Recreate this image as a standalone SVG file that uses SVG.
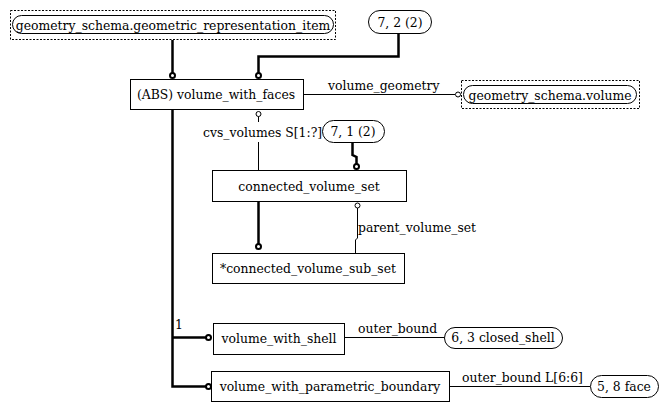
<svg xmlns="http://www.w3.org/2000/svg" width="668" height="412" viewBox="0 0 668 412">
<style>
text{font-family:"DejaVu Serif","Liberation Serif",serif;font-size:12.4px;fill:#000}
.c{text-anchor:middle}
.box{fill:#fff;stroke:#000;stroke-width:1}
.dash{fill:none;stroke:#000;stroke-width:1;stroke-dasharray:2,1.5}
.ov{fill:#fff;stroke:#000;stroke-width:1}
.thin{fill:none;stroke:#000;stroke-width:1}
.thick{fill:none;stroke:#000;stroke-width:2.5}
.oc{fill:#fff;stroke:#000;stroke-width:1}
.ocb{fill:#fff;stroke:#000;stroke-width:2}
</style>
<rect width="668" height="412" fill="#fff"/>
<g id="connectors">
<path class="thick" d="M172.5,40V73"/>
<circle class="ocb" cx="172.5" cy="75.5" r="2.5"/>
<path class="thick" d="M258.5,73V56.5H398.5V33"/>
<circle class="ocb" cx="258.5" cy="75.5" r="2.5"/>
<path class="thin" d="M303,94.5H455"/>
<circle class="oc" cx="458" cy="94.5" r="2.5"/>
<text x="328" y="90">volume_geometry</text>
<circle class="oc" cx="258.5" cy="114" r="2.5"/>
<path class="thin" d="M258.5,116.5V122M258.5,142V170"/>
<text x="203" y="137">cvs_volumes S[1:?]</text>
<path class="thick" d="M352.5,143V155L356.5,157V164"/>
<circle class="ocb" cx="356.5" cy="166.5" r="2.5"/>
<path class="thick" d="M258.5,201V244"/>
<circle class="ocb" cx="258.5" cy="246.5" r="2.5"/>
<circle class="oc" cx="357.5" cy="205.5" r="2.5"/>
<path class="thin" d="M357.5,208V238L355.5,240V253"/>
<text x="358" y="232">parent_volume_set</text>
<path class="thick" d="M172.5,109V386.5H206M172.5,337.5H206"/>
<circle class="ocb" cx="208.5" cy="337.5" r="2.5"/>
<circle class="ocb" cx="208.5" cy="386.5" r="2.5"/>
<text x="175" y="329">1</text>
<path class="thin" d="M344,337.5H444"/>
<text x="358" y="333">outer_bound</text>
<path class="thin" d="M449,386.5H590"/>
<text x="462" y="382">outer_bound L[6:6]</text>
</g>
<g id="geometric_representation_item">
<rect class="dash" x="10.5" y="10.5" width="325" height="29"/>
<rect class="ov" x="12.5" y="15.5" width="321" height="18" rx="9"/>
<text class="c" x="173" y="29.5">geometry_schema.geometric_representation_item</text>
</g>
<g id="ref_7_2">
<rect class="ov" x="368.5" y="10.5" width="63" height="23" rx="11.5"/>
<text class="c" x="400" y="27">7, 2 (2)</text>
</g>
<g id="volume_with_faces">
<rect class="box" x="130.5" y="79.5" width="173" height="30"/>
<text class="c" x="216" y="99">(ABS) volume_with_faces</text>
</g>
<g id="volume">
<rect class="dash" x="461.5" y="80.5" width="178" height="28"/>
<rect class="ov" x="463.5" y="85.5" width="173" height="18" rx="9"/>
<text class="c" x="550" y="99.5">geometry_schema.volume</text>
</g>
<g id="ref_7_1">
<rect class="ov" x="322.5" y="120.5" width="62" height="22" rx="11"/>
<text class="c" x="353" y="136">7, 1 (2)</text>
</g>
<g id="connected_volume_set">
<rect class="box" x="212.5" y="170.5" width="194" height="31"/>
<text class="c" x="309" y="190.5">connected_volume_set</text>
</g>
<g id="connected_volume_sub_set">
<rect class="box" x="212.5" y="253.5" width="192" height="30"/>
<text class="c" x="308" y="273">*connected_volume_sub_set</text>
</g>
<g id="volume_with_shell">
<rect class="box" x="213.5" y="323.5" width="131" height="31"/>
<text class="c" x="279" y="343">volume_with_shell</text>
</g>
<g id="closed_shell">
<rect class="ov" x="444.5" y="327.5" width="118" height="21" rx="10.5"/>
<text class="c" x="503" y="342">6, 3 closed_shell</text>
</g>
<g id="volume_with_parametric_boundary">
<rect class="box" x="211.5" y="371.5" width="238" height="30"/>
<text class="c" x="330" y="391">volume_with_parametric_boundary</text>
</g>
<g id="face">
<rect class="ov" x="590.5" y="375.5" width="68" height="22" rx="11"/>
<text class="c" x="624" y="391">5, 8 face</text>
</g>
</svg>
